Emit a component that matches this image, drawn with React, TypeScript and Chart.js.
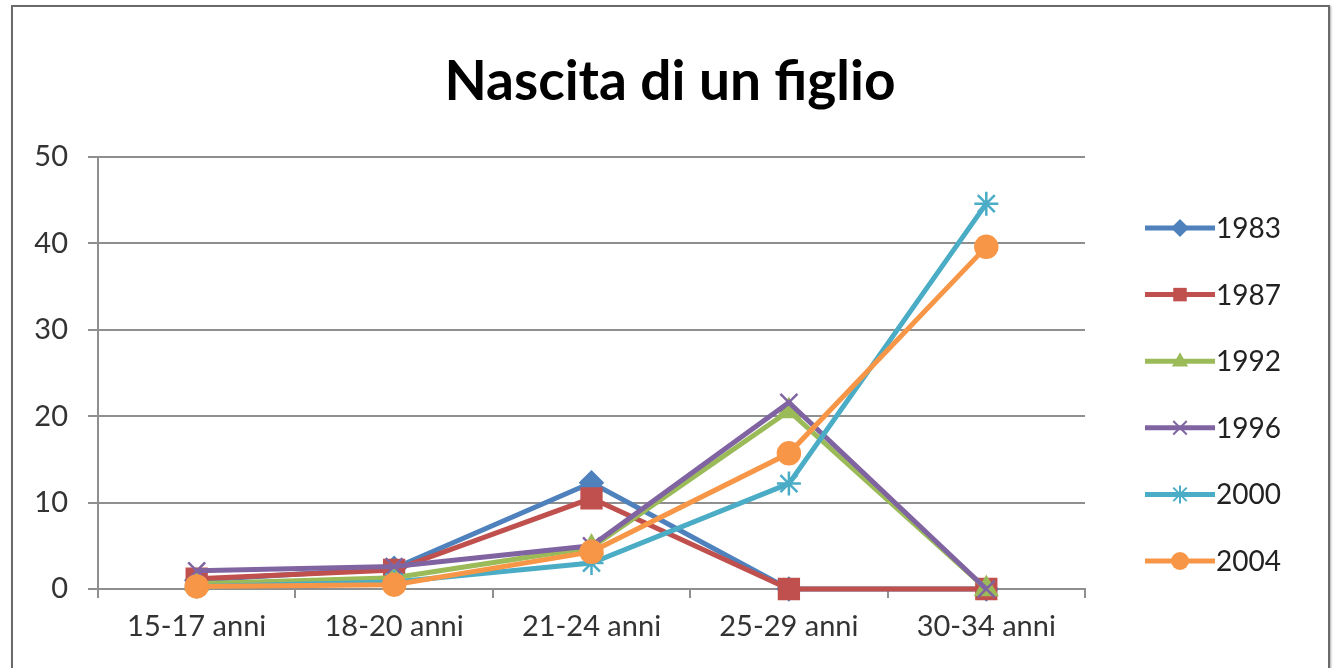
import React, { useEffect, useRef } from "react";
import { Chart, registerables } from "chart.js";

Chart.register(...registerables);

const categories = ["15-17 anni", "18-20 anni", "21-24 anni", "25-29 anni", "30-34 anni"];
const seriesNames = ["1983", "1987", "1992", "1996", "2000", "2004"];
const values1983 = [1.0, 2.4, 12.3, 0, 0];
const values1987 = [1.2, 2.2, 10.5, 0, 0];
const values1992 = [0.6, 1.3, 4.8, 20.6, 0];
const values1996 = [2.1, 2.6, 5.0, 21.6, 0];
const values2000 = [0.3, 0.8, 3.0, 12.2, 44.6];
const values2004 = [0.3, 0.5, 4.3, 15.7, 39.6];
const yTicks = [0, 10, 20, 30, 40, 50];
const titleText = "Nascita di un figlio";

const colors = ["#4F81BD", "#C0504D", "#9BBB59", "#8064A2", "#4BACC6", "#F79646"];
const markers = ["rectRot", "rect", "triangle", "crossRot", "star", "circle"];
const radii = [11, 14, 12, 12, 12, 11];

const FONT = "Lato, 'Open Sans', sans-serif";

function drawMarker(ctx: CanvasRenderingContext2D, style: string, x: number, y: number, r: number, color: string) {
  ctx.save();
  ctx.fillStyle = color;
  ctx.strokeStyle = color;
  ctx.lineWidth = 2;
  ctx.beginPath();
  if (style === "rectRot") {
    ctx.moveTo(x, y - r);
    ctx.lineTo(x + r, y);
    ctx.lineTo(x, y + r);
    ctx.lineTo(x - r, y);
    ctx.closePath();
    ctx.fill();
  } else if (style === "rect") {
    ctx.rect(x - r * 0.75, y - r * 0.75, r * 1.5, r * 1.5);
    ctx.fill();
  } else if (style === "triangle") {
    ctx.moveTo(x, y - r);
    ctx.lineTo(x + r * 0.9, y + r * 0.6);
    ctx.lineTo(x - r * 0.9, y + r * 0.6);
    ctx.closePath();
    ctx.fill();
  } else if (style === "crossRot") {
    const d = r * 0.75;
    ctx.moveTo(x - d, y - d);
    ctx.lineTo(x + d, y + d);
    ctx.moveTo(x + d, y - d);
    ctx.lineTo(x - d, y + d);
    ctx.stroke();
  } else if (style === "star") {
    const d = r * 0.75;
    ctx.moveTo(x - d, y - d);
    ctx.lineTo(x + d, y + d);
    ctx.moveTo(x + d, y - d);
    ctx.lineTo(x - d, y + d);
    ctx.moveTo(x, y - r);
    ctx.lineTo(x, y + r);
    ctx.stroke();
  } else {
    ctx.arc(x, y, r, 0, Math.PI * 2);
    ctx.fill();
  }
  ctx.restore();
}

const titleLegendPlugin = {
  id: "excelTitleLegend",
  afterDraw(chart: any) {
    const ctx: CanvasRenderingContext2D = chart.ctx;
    const area = chart.chartArea;

    // title
    ctx.save();
    ctx.fillStyle = "#000";
    ctx.font = `bold 55px ${FONT}`;
    ctx.textAlign = "center";
    ctx.textBaseline = "middle";
    ctx.fillText(titleText, chart.width / 2 + 2, area.top - 75);
    ctx.restore();

    // legend
    const x0 = area.right + 60;
    const spacing = 66.6;
    const y0 = area.top + 71;
    chart.data.datasets.forEach((ds: any, i: number) => {
      const y = y0 + i * spacing;
      ctx.save();
      ctx.strokeStyle = ds.borderColor;
      ctx.lineWidth = 5;
      ctx.beginPath();
      ctx.moveTo(x0, y);
      ctx.lineTo(x0 + 70, y);
      ctx.stroke();
      ctx.restore();
      drawMarker(ctx, markers[i], x0 + 35, y, 9, ds.borderColor);
      ctx.save();
      ctx.fillStyle = "#222";
      ctx.font = `28px ${FONT}`;
      ctx.textAlign = "left";
      ctx.textBaseline = "middle";
      ctx.fillText(ds.label, x0 + 71, y + 1);
      ctx.restore();
    });
  },
};

export default function App() {
  const canvasRef = useRef<HTMLCanvasElement | null>(null);

  useEffect(() => {
    if (!canvasRef.current) return;
    const seriesValues = [values1983, values1987, values1992, values1996, values2000, values2004];
    const chart = new Chart(canvasRef.current, {
      type: "line",
      data: {
        labels: categories,
        datasets: seriesNames.map((name, i) => ({
          label: name,
          data: seriesValues[i],
          order: seriesNames.length - i,
          borderColor: colors[i],
          backgroundColor: colors[i],
          pointBackgroundColor: colors[i],
          pointBorderColor: colors[i],
          pointStyle: markers[i] as any,
          pointRadius: radii[i],
          pointBorderWidth: 2.5,
          borderWidth: 5,
          tension: 0,
          clip: false as any,
        })),
      },
      options: {
        animation: false,
        responsive: false,
        devicePixelRatio: 1,
        layout: { padding: { left: 20, right: 251, top: 157, bottom: 0 } },
        plugins: {
          legend: { display: false },
          tooltip: { enabled: false },
          title: { display: false },
        },
        scales: {
          x: {
            offset: true,
            grid: {
              offset: true,
              drawOnChartArea: false,
              drawTicks: true,
              tickLength: 9,
              color: "#8f8f8f",
              lineWidth: 2,
            },
            border: { display: true, color: "#8f8f8f", width: 2 },
            ticks: {
              color: "#333",
              font: { family: FONT, size: 29 },
              padding: 11,
              maxRotation: 0,
            },
            afterFit: (scale: any) => {
              scale.height = 79;
            },
          },
          y: {
            min: 0,
            max: 50,
            afterBuildTicks: (scale: any) => {
              scale.ticks = yTicks.map((v) => ({ value: v }));
            },
            grid: {
              color: "#8f8f8f",
              lineWidth: 2,
              drawTicks: true,
              tickLength: 10,
            },
            border: { display: true, color: "#8f8f8f", width: 2 },
            ticks: {
              color: "#333",
              font: { family: FONT, size: 29 },
              padding: 20,
            },
            afterFit: (scale: any) => {
              scale.width = 78;
            },
          },
        },
      },
      plugins: [titleLegendPlugin],
    });
    return () => chart.destroy();
  }, []);

  return (
    <div style={{ position: "fixed", left: 0, top: 0, width: 1336, height: 668, background: "#fff", overflow: "hidden" }}>
      <div
        style={{
          position: "absolute",
          left: 11,
          top: 5,
          width: 1315,
          height: 700,
          border: "2px solid #6a6a6a",
          boxShadow: "1px 1px 2px #aaa",
        }}
      />
      <canvas
        ref={canvasRef}
        width={1336}
        height={668}
        style={{ position: "absolute", left: 0, top: 0, width: 1336, height: 668 }}
      />
    </div>
  );
}
